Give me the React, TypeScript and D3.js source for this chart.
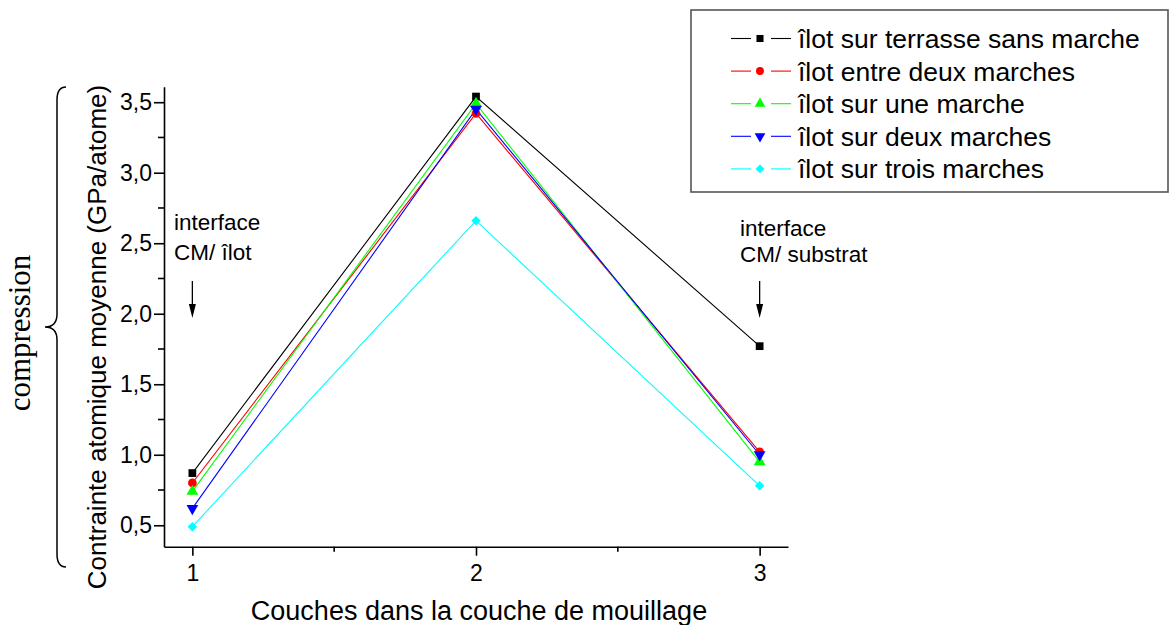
import React, { useEffect, useRef } from "react";
import * as d3 from "d3";

const layers = [1, 2, 3];
const seriesNames = [
  "îlot sur terrasse sans marche",
  "îlot entre deux marches",
  "îlot sur une marche",
  "îlot sur deux marches",
  "îlot sur trois marches",
];
const terrasse = [0.87, 3.54, 1.77];
const entreDeux = [0.8, 3.42, 1.02];
const uneMarche = [0.74, 3.49, 0.95];
const deuxMarches = [0.62, 3.45, 1.0];
const troisMarches = [0.49, 2.66, 0.78];
const yTicks = [0.5, 1.0, 1.5, 2.0, 2.5, 3.0, 3.5];
const yMinor = [0.75, 1.25, 1.75, 2.25, 2.75, 3.25];
const xTicks = [1, 2, 3];
const xMinor = [1.5, 2.5];

const colors = ["#000000", "#ff0000", "#00ff00", "#0000ff", "#00ffff"];
const symbols = ["square", "circle", "up", "down", "diamond"];

export default function App() {
  const ref = useRef<SVGSVGElement>(null);
  useEffect(() => {
    const svg = d3.select(ref.current);
    svg.selectAll("*").remove();
    const font = "'Liberation Sans', Arial, sans-serif";
    const x = d3.scaleLinear().domain([0.9, 3.1]).range([164, 788]);
    const y = d3.scaleLinear().domain([0.348, 3.61]).range([546.7, 86.7]);
    const data = [terrasse, entreDeux, uneMarche, deuxMarches, troisMarches];

    // axes
    const gy = svg.append("g").attr("transform", `translate(${x(0.9)},0)`);
    gy.call(
      d3.axisLeft(y).tickValues(yTicks).tickSize(10).tickSizeOuter(0)
        .tickFormat((d: any) => d3.format(".1f")(d).replace(".", ","))
    );
    gy.selectAll("text").attr("font-size", 23).attr("font-family", font).attr("fill", "#000").attr("dx", "1");
    gy.selectAll("path,line").attr("stroke", "#000").attr("stroke-width", 1.6);
    gy.selectAll(".minor").data(yMinor).enter().append("line")
      .attr("x1", 0).attr("x2", -6).attr("y1", (d) => y(d)).attr("y2", (d) => y(d))
      .attr("stroke", "#000").attr("stroke-width", 1.6);

    const gx = svg.append("g").attr("transform", `translate(0,${y(0.348)})`);
    gx.call(d3.axisBottom(x).tickValues(xTicks).tickSize(9).tickSizeOuter(0).tickFormat(d3.format("d")));
    gx.selectAll("text").attr("font-size", 23).attr("font-family", font).attr("fill", "#000").attr("dy", "0.95em");
    gx.selectAll("path,line").attr("stroke", "#000").attr("stroke-width", 1.6);
    gx.selectAll(".minor").data(xMinor).enter().append("line")
      .attr("x1", (d) => x(d)).attr("x2", (d) => x(d)).attr("y1", 0).attr("y2", 5)
      .attr("stroke", "#000").attr("stroke-width", 1.6);

    // labels
    svg.append("text").attr("x", 479).attr("y", 620).attr("text-anchor", "middle")
      .attr("font-family", font).attr("font-size", 27).text("Couches dans la couche de mouillage");
    svg.append("text").attr("transform", "translate(106,337) rotate(-90)").attr("text-anchor", "middle")
      .attr("font-family", font).attr("font-size", 26).text("Contrainte atomique moyenne (GPa/atome)");
    svg.append("text").attr("transform", "translate(30,333) rotate(-90)").attr("text-anchor", "middle")
      .attr("font-family", "'Liberation Serif', 'Times New Roman', serif").attr("font-size", 31).text("compression");
    svg.append("path")
      .attr("d", "M66,87 Q57,87 57,100 L57,314 Q57,327 45,327 Q57,327 57,340 L57,554 Q57,567 66,567")
      .attr("fill", "none").attr("stroke", "#000").attr("stroke-width", 1.5);

    // lines
    const line = d3.line<number>().x((_, i) => x(layers[i])).y((d) => y(d));
    data.forEach((s, k) => {
      svg.append("path").attr("d", line(s)).attr("fill", "none").attr("stroke", colors[k]).attr("stroke-width", 1.1);
    });
    const mk = (k: number, size: number) => {
      const s = symbols[k];
      if (s === "square" || s === "diamond") return d3.symbol().type(d3.symbolSquare).size(size)();
      if (s === "circle") return d3.symbol().type(d3.symbolCircle).size(size)();
      return d3.symbol().type(d3.symbolTriangle).size(size)();
    };
    const rot = (k: number) => (symbols[k] === "down" ? " rotate(180)" : symbols[k] === "diamond" ? " rotate(45)" : "");
    const sizes = [60, 60, 60, 60, 45];
    data.forEach((s, k) => {
      s.forEach((v, i) => {
        svg.append("path").attr("d", mk(k, sizes[k]))
          .attr("transform", `translate(${x(layers[i])},${y(v)})${rot(k)}`)
          .attr("fill", colors[k]);
      });
    });

    // annotations
    const ann = (tx: number, lines: string[], ys: number[]) => {
      lines.forEach((t, i) => svg.append("text").attr("x", tx).attr("y", ys[i]).attr("font-family", font)
        .attr("font-size", 22.5).text(t));
    };
    ann(174, ["interface", "CM/ îlot"], [230, 260]);
    ann(740, ["interface", "CM/ substrat"], [236, 262]);
    const arrow = (ax: number) => {
      svg.append("line").attr("x1", ax).attr("x2", ax).attr("y1", 281).attr("y2", 306).attr("stroke", "#000").attr("stroke-width", 1.3);
      svg.append("path").attr("d", `M${ax - 3.5},304 L${ax + 3.5},304 L${ax},318 Z`).attr("fill", "#000");
    };
    arrow(x(1));
    arrow(x(3));

    // legend
    svg.append("rect").attr("x", 691).attr("y", 10).attr("width", 477).attr("height", 182)
      .attr("fill", "#fff").attr("stroke", "#555").attr("stroke-width", 1.6);
    seriesNames.forEach((n, k) => {
      const ly = 38.5 + k * 32.6;
      svg.append("line").attr("x1", 731).attr("x2", 751).attr("y1", ly).attr("y2", ly).attr("stroke", colors[k]).attr("stroke-width", 1.1);
      svg.append("line").attr("x1", 771).attr("x2", 791).attr("y1", ly).attr("y2", ly).attr("stroke", colors[k]).attr("stroke-width", 1.1);
      svg.append("path").attr("d", mk(k, k === 4 ? 40 : 50))
        .attr("transform", `translate(760,${ly})${rot(k)}`).attr("fill", colors[k]);
      svg.append("text").attr("x", 798).attr("y", ly).attr("dy", "0.36em").attr("font-family", font)
        .attr("font-size", 26.5).text(n);
    });
  }, []);
  return (
    <svg ref={ref} width={1170} height={625} style={{ position: "absolute", left: 0, top: 0, background: "#fff" }} />
  );
}
